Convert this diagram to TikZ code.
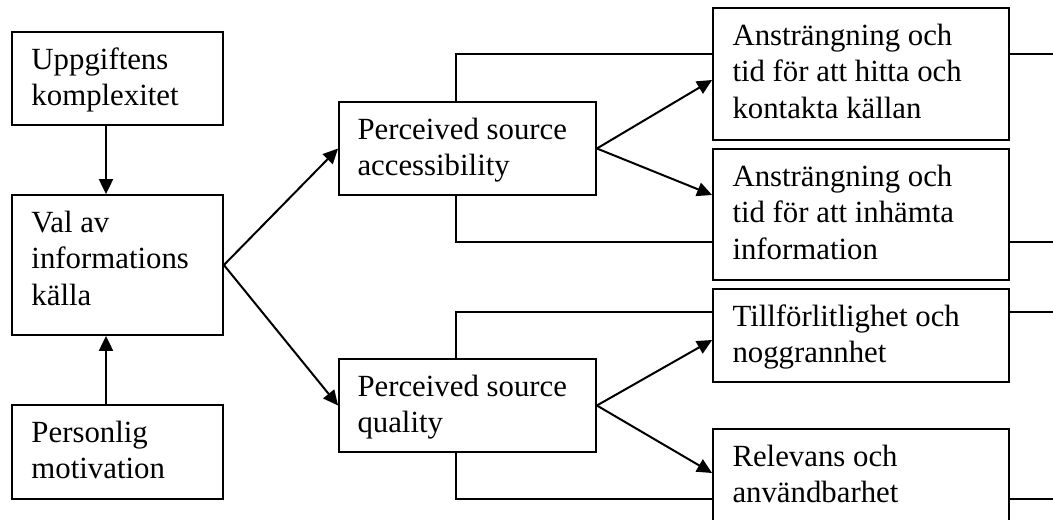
\documentclass[tikz,border=0pt]{standalone}
\usepackage{fontspec}
\setmainfont{Liberation Serif}
\usetikzlibrary{arrows.meta,fit,calc}
\begin{document}
\begin{tikzpicture}[x=0.5pt,y=-0.5pt,
  box/.style={draw, line width=0.9pt, fill=white, inner sep=0pt},
  boxtext/.style={anchor=base west, inner sep=0pt, font=\fontsize{15.4}{18.3}\selectfont},
  link/.style={line width=1pt, -{Triangle[length=7.5pt,width=7pt]}},
  rail/.style={line width=1pt}]
\clip (0,0) rectangle (1053,519);
\fill[white] (0,0) rectangle (1053,519);

% helper coordinates
\coordinate (vx) at (106,0);
\coordinate (rx) at (456,0);
\coordinate (edge) at (1053,0);
\coordinate (r1) at (0,54);
\coordinate (r2) at (0,242);
\coordinate (r3) at (0,312);
\coordinate (r4) at (0,499);
\coordinate (h1) at (0,80);
\coordinate (h2) at (0,195);
\coordinate (h3) at (0,340);
\coordinate (h4) at (0,473);

% feedback rails (drawn first, boxes cover them)
\draw[rail] (rx |- 0,102) |- (713,54);
\draw[rail] (1009,54) -- (edge |- r1);
\draw[rail] (rx |- 0,195) |- (713,242);
\draw[rail] (1009,242) -- (edge |- r2);
\draw[rail] (rx |- 0,359) |- (713,312);
\draw[rail] (1009,312) -- (edge |- r3);
\draw[rail] (rx |- 0,452) |- (713,499);
\draw[rail] (1009,499) -- (edge |- r4);

% boxes
\node[box, fit={(12,32) (223,125)}] (upp) {};
\node[box, fit={(12,195) (223,335)}] (val) {};
\node[box, fit={(12,405) (223,499)}] (per) {};
\node[box, fit={(339,102) (596,195)}] (acc) {};
\node[box, fit={(339,359) (596,452)}] (qual) {};
\node[box, fit={(713,8) (1009,140)}] (a1) {};
\node[box, fit={(713,149) (1009,280)}] (a2) {};
\node[box, fit={(713,289) (1009,382)}] (t1) {};
\node[box, fit={(713,429) (1009,560)}] (rel) {};

% texts
\node[boxtext] (uppT) at ($(upp.north west)+(20,38)$) {\begin{tabular}[t]{@{}l@{}}Uppgiftens\\komplexitet\end{tabular}};
\node[boxtext] (valT) at ($(val.north west)+(20,38)$) {\begin{tabular}[t]{@{}l@{}}Val av\\informations\\källa\end{tabular}};
\node[boxtext] (perT) at ($(per.north west)+(20,38)$) {\begin{tabular}[t]{@{}l@{}}Personlig\\motivation\end{tabular}};
\node[boxtext] (accT) at ($(acc.north west)+(19,38)$) {\begin{tabular}[t]{@{}l@{}}Perceived source\\accessibility\end{tabular}};
\node[boxtext] (qualT) at ($(qual.north west)+(19,38)$) {\begin{tabular}[t]{@{}l@{}}Perceived source\\quality\end{tabular}};
\node[boxtext] (a1T) at ($(a1.north west)+(20,38)$) {\begin{tabular}[t]{@{}l@{}}Ansträngning och\\tid för att hitta och\\kontakta källan\end{tabular}};
\node[boxtext] (a2T) at ($(a2.north west)+(20,38)$) {\begin{tabular}[t]{@{}l@{}}Ansträngning och\\tid för att inhämta\\information\end{tabular}};
\node[boxtext] (t1T) at ($(t1.north west)+(20,38)$) {\begin{tabular}[t]{@{}l@{}}Tillförlitlighet och\\noggrannhet\end{tabular}};
\node[boxtext] (relT) at ($(rel.north west)+(20,38)$) {\begin{tabular}[t]{@{}l@{}}Relevans och\\användbarhet\end{tabular}};

% arrows
\draw[link] (upp.south -| vx) -- (val.north -| vx);
\draw[link] (per.north -| vx) -- (val.south -| vx);
\draw[link] (val.east) -- (acc.west);
\draw[link] (val.east) -- (qual.west);
\draw[link] (acc.east) -- (a1.west |- h1);
\draw[link] (acc.east) -- (a2.west |- h2);
\draw[link] (qual.east) -- (t1.west |- h3);
\draw[link] (qual.east) -- (rel.west |- h4);
\end{tikzpicture}
\end{document}
